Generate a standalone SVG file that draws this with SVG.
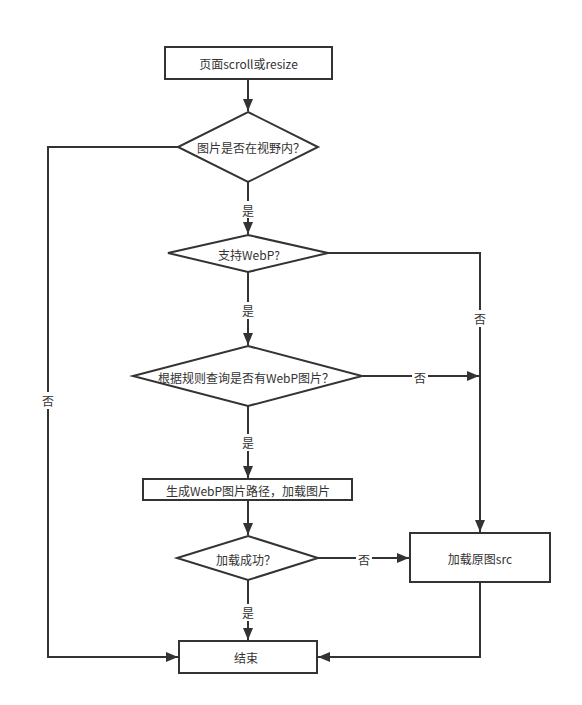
<svg xmlns="http://www.w3.org/2000/svg" width="582" height="705" viewBox="0 0 582 705">
<style>
.s{fill:#fff;stroke:#333;stroke-width:2}
.c{fill:none;stroke:#333;stroke-width:2}
.t{font-family:"Noto Sans CJK SC","Liberation Sans",sans-serif;font-size:12px;fill:#333;text-anchor:middle;dominant-baseline:central}
.lb{fill:#fff}
</style>
<defs>
<marker id="a" viewBox="0 0 12 10" refX="12" refY="5" markerWidth="12" markerHeight="10" markerUnits="userSpaceOnUse" orient="auto">
<path d="M0,0L12,5L0,10z" fill="#333"/>
</marker>
</defs>
<rect width="582" height="705" fill="#fff"/>
<g id="connectors">
<path class="c" d="M248,79V111" marker-end="url(#a)"/>
<path class="c" d="M248,182V234" marker-end="url(#a)"/>
<path class="c" d="M248,272V345" marker-end="url(#a)"/>
<path class="c" d="M248,406V478" marker-end="url(#a)"/>
<path class="c" d="M248,500V535" marker-end="url(#a)"/>
<path class="c" d="M248,580V640" marker-end="url(#a)"/>
<path class="c" d="M178,147H48V657H178" marker-end="url(#a)"/>
<path class="c" d="M328,253H480V532" marker-end="url(#a)"/>
<path class="c" d="M362,376H479" marker-end="url(#a)"/>
<path class="c" d="M318,558H409" marker-end="url(#a)"/>
<path class="c" d="M480,582V657H318" stroke="#555" marker-end="url(#a)"/>
<rect class="lb" x="240" y="201" width="16" height="17"/><text class="t" x="248" y="210">是</text>
<rect class="lb" x="240" y="302" width="16" height="17"/><text class="t" x="248" y="310">是</text>
<rect class="lb" x="240" y="434" width="16" height="17"/><text class="t" x="248" y="442">是</text>
<rect class="lb" x="240" y="604" width="16" height="17"/><text class="t" x="248" y="612">是</text>
<rect class="lb" x="40" y="392" width="16" height="17"/><text class="t" x="48" y="400">否</text>
<rect class="lb" x="472" y="310" width="16" height="17"/><text class="t" x="480" y="318">否</text>
<rect class="lb" x="412" y="368" width="16" height="17"/><text class="t" x="420" y="377">否</text>
<rect class="lb" x="356" y="550" width="16" height="17"/><text class="t" x="364" y="559">否</text>
</g>
<g id="start"><rect class="s" x="165" y="47" width="167" height="32"/><text class="t" x="248.5" y="63">页面scroll或resize</text></g>
<g id="inView"><path class="s" d="M248,112L318,147L248,182L178,147z"/><text class="t" x="251" y="147">图片是否在视野内？</text></g>
<g id="supportWebp"><path class="s" d="M248,235L328,253L248,272L168,253z"/><text class="t" x="249" y="254">支持WebP?</text></g>
<g id="hasWebp"><path class="s" d="M248,346L362,376L248,406L133,376z"/><text class="t" x="246" y="377">根据规则查询是否有WebP图片？</text></g>
<g id="genPath"><rect class="s" x="143" y="479" width="209" height="21"/><text class="t" x="248" y="490">生成WebP图片路径，加载图片</text></g>
<g id="loadOk"><path class="s" d="M248,536L318,558L248,580L177,558z"/><text class="t" x="246" y="559">加载成功？</text></g>
<g id="loadSrc"><rect class="s" x="410" y="533" width="140" height="49"/><text class="t" x="480" y="558">加载原图src</text></g>
<g id="end"><rect class="s" x="179" y="641" width="138" height="32"/><text class="t" x="246" y="657">结束</text></g>
</svg>
